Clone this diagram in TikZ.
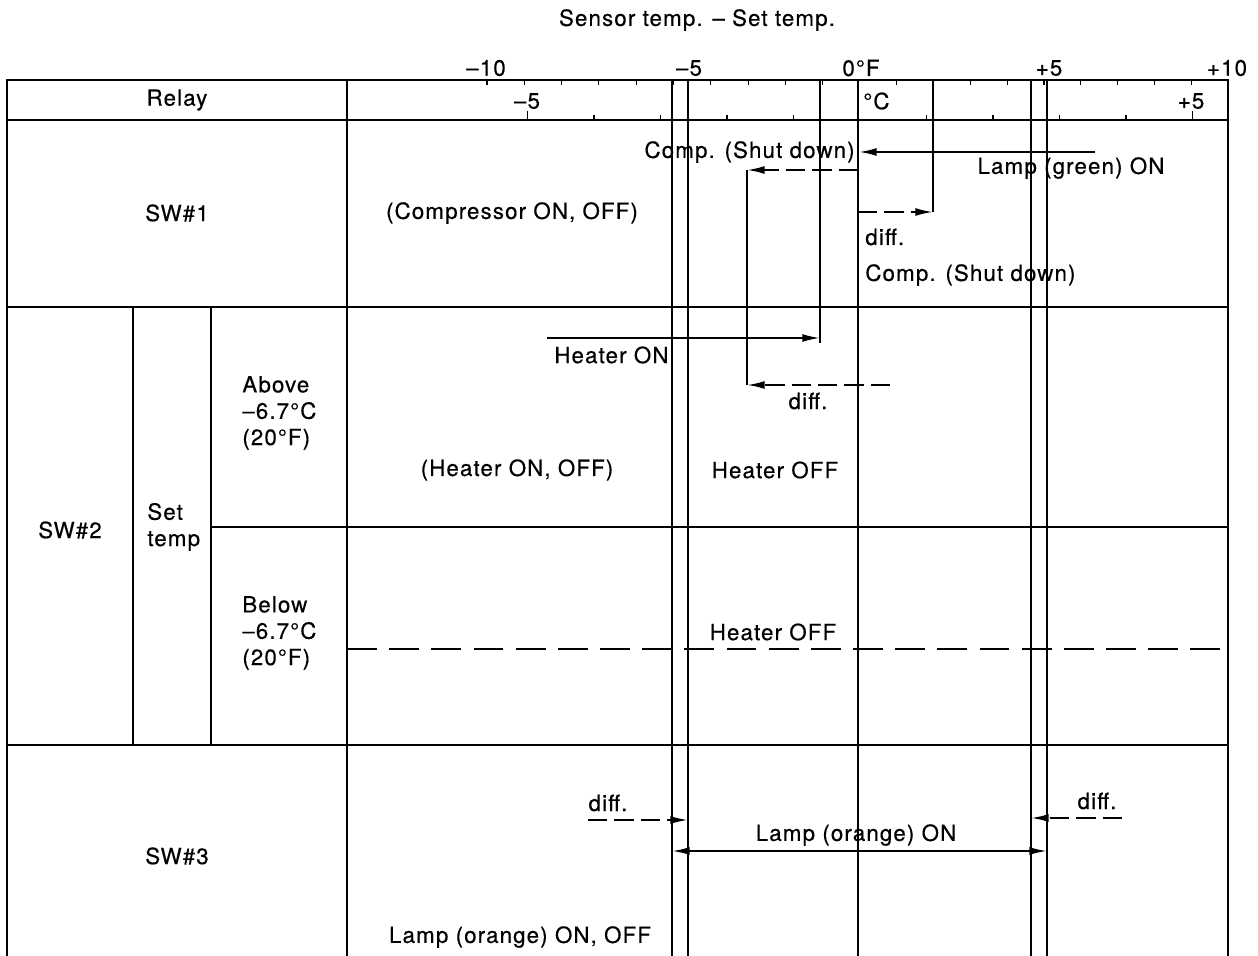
\documentclass[tikz,border=0pt]{standalone}
\usepackage{fontspec}
\setmainfont{TeX Gyre Heros}
\newfontfamily\chartfont[LetterSpace=5,FakeBold=0.4]{TeX Gyre Heros}
\usetikzlibrary{arrows.meta}

\begin{document}
\begin{tikzpicture}[
  x=0.02cm, y=-0.02cm,
  font=\chartfont\fontsize{12.7}{15}\selectfont,
  >={Latex[length=10pt,width=4.5pt]},
  frame/.style={line width=1.1pt},
  rule/.style={line width=0.6pt},
  tick/.style={line width=0.6pt},
  lbl/.style={inner sep=0pt, align=center},
  arr/.style={->, line width=1.1pt},
  darr/.style={arr, dash pattern=on 11pt off 4pt},
  heavy/.style={line width=1.6pt, dash pattern=on 17pt off 7pt},
]
  \useasboundingbox (0,0) rectangle (1258,956);

  % table frame and rows
  \draw[frame] (7,956) -- (7,80) -- (1228,80) -- (1228,956);
  \draw[rule] (7,120) -- (1228,120);
  \draw[rule] (7,307) -- (1228,307);
  \draw[rule] (211,527) -- (1228,527);
  \draw[rule] (7,745) -- (1228,745);
  \draw[rule] (347,80) -- (347,956);
  \draw[rule] (133,307) -- (133,745);
  \draw[rule] (211,307) -- (211,745);

  % scale ticks (deg F on top, deg C below)
  \foreach \f in {-10,...,-1} \draw[tick] ({860+37.3*\f},80) -- ++(0,5);
  \foreach \f in {1,...,9} \draw[tick] ({860+36.8*\f},80) -- ++(0,5);
  \foreach \c in {-4,...,-1,1,2,3,4} \draw[tick] ({860+66.5*\c},120) -- ++(0,-5);
  \foreach \c in {-5,5} \draw[tick] ({860+66.5*\c},120) -- ++(0,-9);

  % reference lines
  \draw[rule] (672,80) -- (672,956);
  \draw[rule] (688,80) -- (688,956);
  \draw[rule] (858,80) -- (858,956);
  \draw[rule] (1031,80) -- (1031,956);
  \draw[rule] (1047,80) -- (1047,956);
  \draw[rule] (820,80) -- (820,343);
  \draw[rule] (933,80) -- (933,212);
  \draw[rule] (747,170) -- (747,385);

  % scale labels
  \node[lbl] (title) at (697,20) {Sensor temp. – Set temp.};
  \node[lbl] (fm10) at (486,68) {–10};
  \node[lbl] (fm5)  at (689,68) {–5};
  \node[lbl] (f0)   at (861,68) {0°F};
  \node[lbl] (fp5)  at (1049,68) {+5};
  \node[lbl] (fp10) at (1227,68) {+10};
  \node[lbl] (cm5)  at (527,101) {–5};
  \node[lbl, anchor=west] (c0) at (863,101) {°C};
  \node[lbl] (cp5)  at (1191,101) {+5};

  % relay column
  \node[lbl] (relay) at (177,100) {Relay};
  \node[lbl] (sw1) at (177,213) {SW\#1};
  \node[lbl] (sw2) at (70,530) {SW\#2};
  \node[lbl, anchor=west, align=left] (settemp) at (147,527) {Set\\temp};
  \node[lbl, anchor=west, align=left] (above) at (242,413) {Above\\–6.7°C\\(20°F)};
  \node[lbl, anchor=west, align=left] (below) at (242,633) {Below\\–6.7°C\\(20°F)};
  \node[lbl] (sw3) at (177,856) {SW\#3};

  % SW#1
  \node[lbl] (componoff) at (512,213) {(Compressor ON, OFF)};
  \node[lbl, anchor=east] (shut1) at (855,152) {Comp. (Shut down)};
  \node[lbl] (lampg) at (1071,168) {Lamp (green) ON};
  \node[lbl, anchor=west] (diff1) at (865,237) {diff.};
  \node[lbl, anchor=west] (shut2) at (865,275) {Comp. (Shut down)};
  \coordinate (lgR) at (1095,152);
  \coordinate (lgL) at (859,152);
  \coordinate (csA) at (858,170);
  \coordinate (csB) at (747,170);
  \coordinate (dfA) at (858,212);
  \coordinate (dfB) at (933,212);
  \draw[arr] (lgR) -- (lgL);
  \draw[darr] (csA) -- (csB);
  \draw[darr] (dfA) -- (dfB);

  % SW#2
  \node[lbl, anchor=west] (heaton) at (554,355) {Heater ON};
  \node[lbl] (diff2) at (808,401) {diff.};
  \node[lbl] (heatonoff) at (517,470) {(Heater ON, OFF)};
  \node[lbl] (heatoff1) at (775,470) {Heater OFF};
  \node[lbl] (heatoff2) at (773,632) {Heater OFF};
  \coordinate (hoA) at (547,338);
  \coordinate (hoB) at (820,338);
  \coordinate (hdA) at (890,385);
  \coordinate (hdB) at (747,385);
  \coordinate (lowA) at (347,649);
  \coordinate (lowB) at (1228,649);
  \draw[arr] (hoA) -- (hoB);
  \draw[darr] (hdA) -- (hdB);
  \draw[heavy] (lowA) -- (lowB);

  % SW#3
  \node[lbl] (diff3) at (608,803) {diff.};
  \node[lbl] (diff4) at (1097,801) {diff.};
  \node[lbl] (lampo) at (856,835) {Lamp (orange) ON};
  \node[lbl] (lamponoff) at (520,937) {Lamp (orange) ON, OFF};
  \coordinate (ldA) at (588,820);
  \coordinate (ldB) at (688,820);
  \coordinate (rdA) at (1122,818);
  \coordinate (rdB) at (1031,818);
  \coordinate (loA) at (672,851);
  \coordinate (loB) at (1047,851);
  \draw[darr] (ldA) -- (ldB);
  \draw[darr] (rdA) -- (rdB);
  \draw[arr, <->] (loA) -- (loB);
\end{tikzpicture}
\end{document}
